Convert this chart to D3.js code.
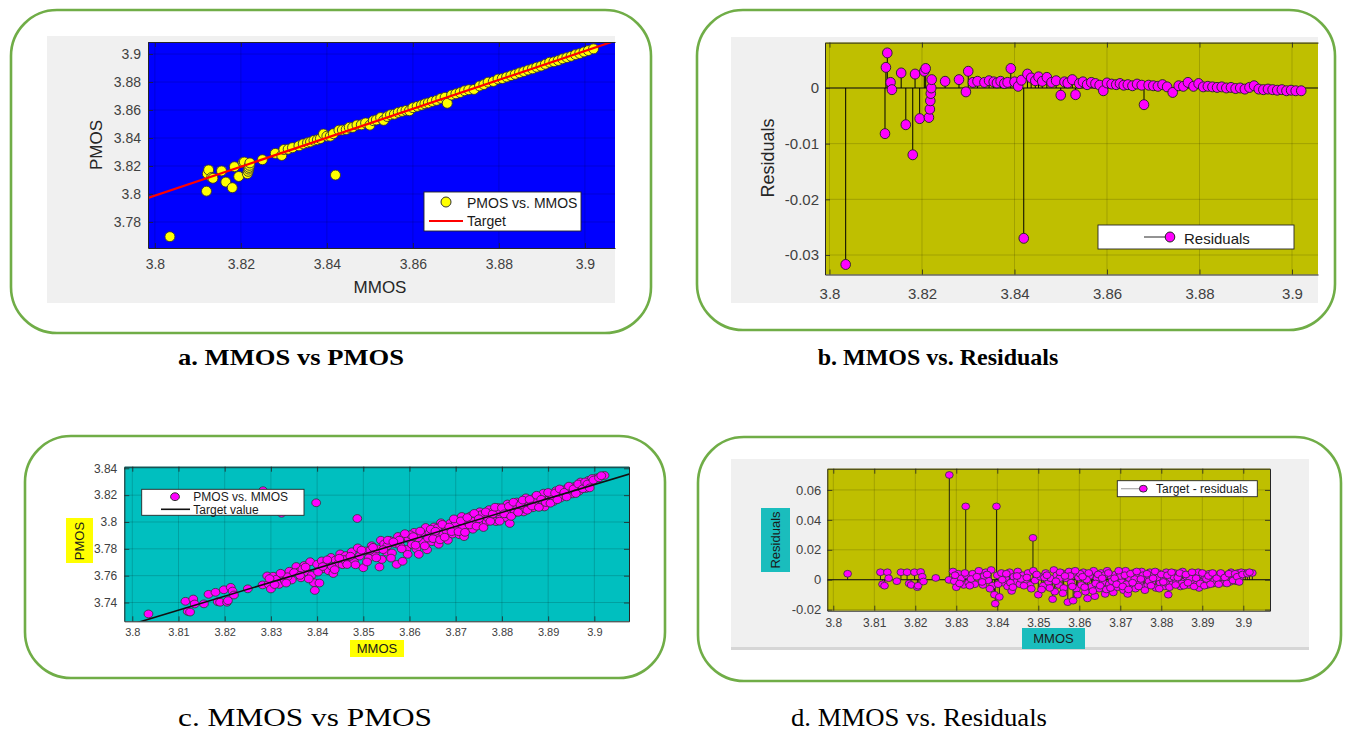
<!DOCTYPE html>
<html><head><meta charset="utf-8">
<script src="https://cdn.jsdelivr.net/npm/d3@7"></script>
<style>body{margin:0;background:#fff}svg{display:block}</style>
</head><body>
<script>
// ---------------- DATA ----------------
// Panels a & b : MMOS, PMOS and residuals
const mmosAB = [
 3.8035,3.8120,3.8122,3.8125,3.8132, 3.8135,3.8155,3.8165,3.8180,3.8185,
 3.8195,3.8205,3.8208,3.8215,3.8217, 3.8218,3.8219,3.8220,3.8221,3.8250,
 3.8280,3.8295,3.8300,3.8310,3.8420,
 3.8320,3.8335,3.8345,3.8355,3.8362, 3.8370,3.8378,3.8385,3.8392,3.8400,
 3.8408,3.8415,3.8428,3.8436,3.8445, 3.8452,3.8460,3.8470,3.8480,3.8490,
 3.8500,3.8508,3.8515,3.8525,3.8532, 3.8540,3.8548,3.8557,3.8566,3.8575,
 3.8584,3.8592,3.8600,3.8610,3.8620, 3.8628,3.8636,3.8645,3.8655,3.8665,
 3.8675,3.8680,3.8690,3.8700,3.8710, 3.8720,3.8730,3.8742,3.8755,3.8765,
 3.8775,3.8787,3.8798,3.8808,3.8818, 3.8828,3.8838,3.8848,3.8858,3.8868,
 3.8878,3.8888,3.8898,3.8908,3.8918, 3.8928,3.8938,3.8948,3.8958,3.8968,
 3.8978,3.8988,3.8998,3.9008,3.9020];
const pmosAB = [
 3.7695,3.8020,3.8145,3.8172,3.8118, 3.8112,3.8165,3.8085,3.8045,3.8195,
 3.8125,3.8225,3.8228,3.8145,3.8162, 3.8178,3.8190,3.8205,3.8222,3.8245,
 3.8290,3.8275,3.8318,3.8320,3.8135,
 3.8331,3.8344,3.8358,3.8366,3.8372, 3.8383,3.8387,3.8396,3.8429,3.8413,
 3.8413,3.8431,3.8456,3.8457,3.8461, 3.8476,3.8476,3.8493,3.8494,3.8508,
 3.8492,3.8524,3.8529,3.8546,3.8526, 3.8554,3.8566,3.8570,3.8583,3.8590,
 3.8597,3.8595,3.8617,3.8626,3.8635, 3.8645,3.8651,3.8661,3.8669,3.8683,
 3.8691,3.8648,3.8707,3.8716,3.8725, 3.8738,3.8745,3.8747,3.8772,3.8782,
 3.8799,3.8804,3.8821,3.8825,3.8836, 3.8846,3.8855,3.8866,3.8875,3.8886,
 3.8894,3.8906,3.8914,3.8927,3.8941, 3.8945,3.8954,3.8966,3.8975,3.8984,
 3.8996,3.9004,3.9015,3.9025,3.9037];
const residAB = [
 -0.0317,-0.0082,0.0037,0.0063,0.0010, -0.0003,0.0027,-0.0066,-0.0120,0.0025,
 -0.0055,0.0030,0.0035,-0.0053,-0.0038, -0.0023,-0.0010,0.0000,0.0015,0.0012,
 0.0015,-0.0007,0.0030,0.0010,-0.0270,
 0.0012,0.0010,0.0013,0.0011,0.0009, 0.0012,0.0008,0.0010,0.0035,0.0011,
 0.0003,0.0014,0.0025,0.0018,0.0013, 0.0020,0.0012,0.0019,0.0010,0.0013,
 -0.0013,0.0011,0.0009,0.0015,-0.0012, 0.0008,0.0011,0.0006,0.0010,0.0008,
 0.0005,-0.0005,0.0009,0.0007,0.0006, 0.0008,0.0005,0.0006,0.0004,0.0007,
 0.0005,-0.0030,0.0005,0.0004,0.0003, 0.0006,0.0002,-0.0008,0.0004,0.0003,
 0.0010,0.0003,0.0008,0.0002,0.0003, 0.0002,0.0001,0.0002,0.0000,0.0001,
 -0.0001,0.0000,-0.0002,0.0001,0.0004, -0.0002,-0.0003,-0.0002,-0.0003,-0.0004,
 -0.0003,-0.0005,-0.0004,-0.0005,-0.0005];
const targetAX = [3.7984, 3.907];
const targetAY = [3.7972, 3.9094];

// Panels c & d
const mmosCD = [
 3.8035,3.8115,3.8120,3.8125,3.8132,3.8135,3.8155,3.8165,3.8180,3.8185,
 3.8190,3.8198,3.8205,3.8207,3.8213,3.8217,3.8220,3.8250,3.8283,3.8282,
 3.8292,3.8295,3.8300,3.8305,3.8312,3.8318,3.8323,3.8325,3.8330,3.8340,
 3.8345,3.8355,3.8360,3.8365,3.8372,3.8378,3.8385,3.8388,3.8393,3.8395,
 3.8398,3.8400,3.8405,3.8410,3.8415,3.8420,3.8425,3.8430,3.8435,3.8440,
 3.8445,3.8450,3.8455,3.8462,3.8468,3.8475,3.8480,3.8487,3.8488,3.8492,
 3.8500,3.8505,3.8512,3.8518,3.8525,3.8530,3.8535,3.8538,3.8540,3.8545,
 3.8550,3.8557,3.8562,3.8568,3.8572,3.8575,3.8580,3.8585,3.8588,3.8593,
 3.8598,3.8605,3.8610,3.8615,3.8620,3.8625,3.8630,3.8635,3.8638,3.8643,
 3.8648,3.8653,3.8658,3.8663,3.8668,3.8673,3.8678,3.8683,3.8688,3.8693,
 3.8698,3.8703,3.8708,3.8713,3.8718,3.8722,3.8727,3.8732,3.8737,3.8742,
 3.8747,3.8752,3.8757,3.8762,3.8767,3.8772,3.8777,3.8782,3.8787,3.8792,
 3.8797,3.8802,3.8807,3.8812,3.8817,3.8822,3.8827,3.8832,3.8837,3.8842,
 3.8847,3.8852,3.8857,3.8862,3.8867,3.8872,3.8877,3.8882,3.8887,3.8892,
 3.8897,3.8902,3.8907,3.8912,3.8917,3.8922,3.8927,3.8932,3.8937,3.8942,
 3.8947,3.8952,3.8957,3.8962,3.8967,3.8972,3.8977,3.8982,3.8987,3.8992,
 3.9005,3.9022,3.8336,3.8368,3.8432,3.8458,3.8515,3.8552,3.8578,3.8602,
 3.8618,3.8640,3.8660,3.8680,3.8700,3.8715,3.8735,3.8755,3.8770,3.8790,
 3.8810,3.8830,3.8850,3.8870,3.8890,3.8910,3.8930,3.8950,3.8970,3.8995,
 3.8297,3.8308,3.8321,3.8333,3.8350,3.8363,3.8375,3.8382,3.8402,3.8412,
 3.8422,3.8438,3.8448,3.8465,3.8472,3.8483,3.8496,3.8508,3.8521,3.8528,
 3.8543,3.8553,3.8560,3.8565,3.8583,3.8590,3.8596,3.8608,3.8613,3.8623,
 3.8633,3.8646,3.8651,3.8656,3.8666,3.8671,3.8676,3.8686,3.8691,3.8696,
 3.8706,3.8711,3.8720,3.8725,3.8730,3.8740,3.8745,3.8750,3.8760,3.8765,
 3.8775,3.8780,3.8785,3.8795,3.8800,3.8805,3.8815,3.8820,3.8825,3.8835,
 3.8840,3.8845,3.8855,3.8860,3.8865,3.8875,3.8880,3.8885,3.8895,3.8900,
 3.8905,3.8915,3.8920,3.8925,3.8935,3.8940,3.8945,3.8955,3.8960,3.8965,
 3.8975,3.8980,3.8985,3.8990,3.8998,3.9010,3.9015];
const pmosC = [
 3.7315,3.7409,3.7334,3.7329,3.7426,3.7389,3.7390,3.7461,3.7476,3.7406,
 3.7402,3.7495,3.7402,3.7414,3.7513,3.7485,3.7456,3.7502,3.8233,3.7531,
 3.7598,3.7536,3.7501,3.7596,3.7574,3.7535,3.8065,3.7607,3.7562,3.7633,
 3.7568,3.7668,3.7628,3.7584,3.7676,3.7627,3.7704,3.7602,3.7548,3.7490,
 3.8143,3.7685,3.7545,3.7710,3.7651,3.7686,3.7636,3.7736,3.7616,3.7717,
 3.7687,3.7762,3.7682,3.7750,3.7716,3.7778,3.7703,3.8026,3.7807,3.7746,
 3.7659,3.7784,3.7732,3.7823,3.7770,3.7800,3.7665,3.7864,3.7721,3.7836,
 3.7776,3.7863,3.7769,3.7840,3.7684,3.7892,3.7822,3.7707,3.7891,3.7796,
 3.7876,3.7833,3.7923,3.7799,3.7759,3.7914,3.7849,3.7959,3.7793,3.7918,
 3.7853,3.7963,3.7903,3.7834,3.7994,3.7909,3.7964,3.7864,3.7990,3.7910,
 3.8015,3.7955,3.7905,3.8041,3.7891,3.8000,3.7955,3.8045,3.7946,3.8036,
 3.7991,3.8076,3.7976,3.8047,3.8002,3.8092,3.8032,3.8082,3.8003,3.8108,
 3.8048,3.8093,3.8033,3.8134,3.7989,3.8104,3.8069,3.8149,3.8095,3.8145,
 3.8075,3.8180,3.8120,3.8156,3.8106,3.8186,3.8136,3.8181,3.8132,3.8112,
 3.8207,3.8167,3.8197,3.8153,3.8233,3.8203,3.8178,3.8238,3.8204,3.8254,
 3.8224,3.8209,3.8264,3.8245,3.8230,3.8285,3.8270,3.8250,3.8310,3.8291,
 3.8329,3.8347,3.7592,3.7648,3.7668,3.7720,3.7790,3.7823,3.7865,3.7905,
 3.7882,3.7880,3.7955,3.7936,3.7992,3.7953,3.8008,3.8054,3.8030,3.8076,
 3.8061,3.8122,3.8098,3.8154,3.8215,3.8190,3.8201,3.8242,3.8298,3.8324,
 3.7578,3.7534,3.7618,3.7545,3.7623,3.7602,3.7664,3.7576,3.7627,3.7668,
 3.7718,3.7645,3.7730,3.7683,3.7745,3.7681,3.7790,3.7702,3.7811,3.7733,
 3.7794,3.7864,3.7731,3.7852,3.7800,3.7913,3.7759,3.7891,3.7827,3.7932,
 3.7822,3.7946,3.7876,3.7931,3.7867,3.7982,3.7887,3.7962,3.7928,3.8023,
 3.7928,3.8008,3.7923,3.8033,3.7978,3.8064,3.7969,3.8024,3.7959,3.8075,
 3.8005,3.8060,3.8110,3.8006,3.8106,3.8061,3.8117,3.8042,3.8147,3.8072,
 3.8128,3.8163,3.8088,3.8168,3.8119,3.8199,3.8109,3.8169,3.8145,3.8220,
 3.8140,3.8216,3.8166,3.8246,3.8221,3.8187,3.8267,3.8247,3.8212,3.8283,
 3.8248,3.8298,3.8283,3.8254,3.8312,3.8329,3.8345];
const residD = [
 0.0040,0.0050,-0.0030,-0.0040,0.0050,0.0010,-0.0010,0.0050,0.0050,-0.0025,
 -0.0035,0.0050,-0.0050,-0.0040,0.0052,0.0020,-0.0012,0.0012,0.0700,-0.0001,
 0.0055,-0.0010,-0.0050,0.0040,0.0010,-0.0035,0.0490,0.0030,-0.0020,0.0040,
 -0.0030,0.0060,0.0015,-0.0035,0.0050,-0.0005,0.0065,-0.0040,-0.0100,-0.0160,
 0.0490,0.0030,-0.0115,0.0045,-0.0020,0.0010,-0.0045,0.0050,-0.0075,0.0020,
 -0.0015,0.0055,-0.0030,0.0030,-0.0010,0.0045,-0.0035,0.0280,0.0060,-0.0005,
 -0.0100,0.0020,-0.0040,0.0045,-0.0015,0.0010,-0.0130,0.0065,-0.0080,0.0030,
 -0.0035,0.0045,-0.0055,0.0010,-0.0150,0.0055,-0.0020,-0.0140,0.0040,-0.0060,
 0.0015,-0.0035,0.0050,-0.0080,-0.0125,0.0025,-0.0045,0.0060,-0.0110,0.0010,
 -0.0060,0.0045,-0.0020,-0.0095,0.0060,-0.0030,0.0020,-0.0085,0.0035,-0.0050,
 0.0050,-0.0015,-0.0070,0.0060,-0.0095,0.0010,-0.0040,0.0045,-0.0060,0.0025,
 -0.0025,0.0055,-0.0050,0.0015,-0.0035,0.0050,-0.0015,0.0030,-0.0055,0.0045,
 -0.0020,0.0020,-0.0045,0.0050,-0.0100,0.0010,-0.0030,0.0045,-0.0015,0.0030,
 -0.0045,0.0055,-0.0010,0.0020,-0.0035,0.0040,-0.0015,0.0025,-0.0030,-0.0055,
 0.0035,-0.0010,0.0015,-0.0035,0.0040,0.0005,-0.0025,0.0030,-0.0010,0.0035,
 0.0000,-0.0020,0.0030,0.0005,-0.0015,0.0035,0.0015,-0.0010,0.0045,0.0020,
 0.0045,0.0045,0.0005,0.0025,-0.0020,0.0005,0.0015,0.0010,0.0025,0.0040,
 0.0000,-0.0025,0.0030,-0.0010,0.0025,-0.0030,0.0005,0.0030,-0.0010,0.0015,
 -0.0020,0.0020,-0.0025,0.0010,0.0050,0.0005,-0.0005,0.0015,0.0050,0.0050,
 0.0030,-0.0025,0.0045,-0.0040,0.0020,-0.0015,0.0035,-0.0060,-0.0030,0.0000,
 0.0040,-0.0050,0.0025,-0.0040,0.0015,-0.0060,0.0035,-0.0065,0.0030,-0.0055,
 -0.0010,0.0050,-0.0090,0.0025,-0.0045,0.0060,-0.0100,0.0020,-0.0050,0.0045,
 -0.0075,0.0035,-0.0040,0.0010,-0.0065,0.0045,-0.0055,0.0010,-0.0030,0.0060,
 -0.0045,0.0030,-0.0065,0.0040,-0.0020,0.0055,-0.0045,0.0005,-0.0070,0.0040,
 -0.0040,0.0010,0.0055,-0.0060,0.0035,-0.0015,0.0030,-0.0050,0.0050,-0.0035,
 0.0015,0.0045,-0.0040,0.0035,-0.0020,0.0050,-0.0045,0.0010,-0.0025,0.0045,
 -0.0040,0.0025,-0.0030,0.0045,0.0010,-0.0030,0.0045,0.0015,-0.0025,0.0040,
 -0.0005,0.0040,0.0020,-0.0015,0.0035,0.0040,0.0050];
const targetCX = [3.80, 3.91];
const targetCY = [3.7239, 3.8383];

// Tick values
const ticksAX = [3.8, 3.82, 3.84, 3.86, 3.88, 3.9];
const ticksAY = [3.78, 3.8, 3.82, 3.84, 3.86, 3.88, 3.9];
const ticksBX = [3.8, 3.82, 3.84, 3.86, 3.88, 3.9];
const ticksBY = [-0.03, -0.02, -0.01, 0];
const ticksCX = [3.8, 3.81, 3.82, 3.83, 3.84, 3.85, 3.86, 3.87, 3.88, 3.89, 3.9];
const ticksCY = [3.74, 3.76, 3.78, 3.8, 3.82, 3.84];
const ticksDX = [3.8, 3.81, 3.82, 3.83, 3.84, 3.85, 3.86, 3.87, 3.88, 3.89, 3.9];
const ticksDY = [-0.02, 0, 0.02, 0.04, 0.06];

const captions = ["a. MMOS vs PMOS", "b. MMOS vs. Residuals", "c. MMOS vs PMOS", "d. MMOS vs. Residuals"];

// ---------------- DRAWING ----------------
const FONT = "'Liberation Sans', Arial, Helvetica, sans-serif";
const SERIF = "'Liberation Serif', 'Times New Roman', serif";
const W = 1348, H = 732;
const svg = d3.select('body').append('svg').attr('width', W).attr('height', H);
svg.append('rect').attr('width', W).attr('height', H).attr('fill', '#fff');
const defs = svg.append('defs');
const fmt = d => String(+d.toFixed(3));

// Green rounded frames
[[11,10,640,323],[697,10,638,320],[25,436,640,242],[698,437,643,244]].forEach(f => {
  svg.append('rect').attr('x', f[0]).attr('y', f[1]).attr('width', f[2]).attr('height', f[3])
    .attr('rx', 46).attr('ry', 46).attr('fill', 'none').attr('stroke', '#70AD47').attr('stroke-width', 2.6);
});

function plotBg(x, y, fill, xT, yT) {
  const [xl, xr] = x.range(), [yb, yt] = y.range();
  svg.append('rect').attr('x', xl).attr('y', yt).attr('width', xr - xl).attr('height', yb - yt).attr('fill', fill);
  const g = svg.append('g');
  g.selectAll('line.gx').data(xT).join('line').attr('class', 'gx')
    .attr('x1', d => x(d)).attr('x2', d => x(d)).attr('y1', yt).attr('y2', yb)
    .attr('stroke', 'rgba(0,0,0,0.16)').attr('stroke-width', 1);
  g.selectAll('line.gy').data(yT).join('line').attr('class', 'gy')
    .attr('y1', d => y(d)).attr('y2', d => y(d)).attr('x1', xl).attr('x2', xr)
    .attr('stroke', 'rgba(0,0,0,0.16)').attr('stroke-width', 1);
}
function clip(id, x, y) {
  const [xl, xr] = x.range(), [yb, yt] = y.range();
  defs.append('clipPath').attr('id', id).append('rect').attr('x', xl).attr('y', yt).attr('width', xr - xl).attr('height', yb - yt);
  return svg.append('g').attr('clip-path', `url(#${id})`);
}
function axes(x, y, o) {
  const [xl, xr] = x.range(), [yb, yt] = y.range();
  const col = '#262626';
  const style = (sel, fs) => {
    sel.attr('font-family', FONT).attr('font-size', fs);
    sel.select('.domain').attr('stroke', col).attr('stroke-width', 1);
    sel.selectAll('.tick line').attr('stroke', col).attr('stroke-width', 0.8);
    sel.selectAll('.tick text').attr('fill', '#404040');
  };
  style(svg.append('g').attr('transform', `translate(0,${yb})`)
    .call(d3.axisBottom(x).tickValues(o.xT).tickFormat(fmt).tickSizeInner(-5).tickSizeOuter(0).tickPadding(o.padX)), o.fsX);
  style(svg.append('g').attr('transform', `translate(0,${yt})`)
    .call(d3.axisTop(x).tickValues(o.xT).tickFormat(() => '').tickSizeInner(-5).tickSizeOuter(0)), o.fsX);
  style(svg.append('g').attr('transform', `translate(${xl},0)`)
    .call(d3.axisLeft(y).tickValues(o.yT).tickFormat(fmt).tickSizeInner(-5).tickSizeOuter(0).tickPadding(o.padY)), o.fsY);
  if (o.right) style(svg.append('g').attr('transform', `translate(${xr},0)`)
    .call(d3.axisRight(y).tickValues(o.yT).tickFormat(() => '').tickSizeInner(-5).tickSizeOuter(0)), o.fsY);
}
function label(txt, cx, cy, fs, rot, box) {
  if (box) svg.append('rect').attr('x', box[0]).attr('y', box[1]).attr('width', box[2]).attr('height', box[3]).attr('fill', box[4]);
  svg.append('text').attr('transform', `translate(${cx},${cy}) rotate(${rot})`)
    .attr('text-anchor', 'middle').attr('dominant-baseline', 'central')
    .attr('font-family', FONT).attr('font-size', fs).attr('fill', box ? '#1a1a1a' : '#262626').text(txt);
}
function legendBox(x, y, w, h) {
  svg.append('rect').attr('x', x).attr('y', y).attr('width', w).attr('height', h)
    .attr('fill', '#fff').attr('stroke', '#262626').attr('stroke-width', 0.9);
}
function ltext(txt, x, y, fs) {
  svg.append('text').attr('x', x).attr('y', y).attr('dominant-baseline', 'central')
    .attr('font-family', FONT).attr('font-size', fs).attr('fill', '#1a1a1a').text(txt);
}
const idxAB = d3.range(mmosAB.length), idxCD = d3.range(mmosCD.length);

// ===== Panel a =====
svg.append('rect').attr('x', 47).attr('y', 36).attr('width', 568).attr('height', 267).attr('fill', '#F0F0F0');
const xA = d3.scaleLinear().domain([3.7984, 3.907]).range([148, 615]);
const yA = d3.scaleLinear().domain([3.7614, 3.9086]).range([248, 42]);
plotBg(xA, yA, '#0000FF', ticksAX, ticksAY);
const gA = clip('clipA', xA, yA);
gA.selectAll('circle').data(idxAB).join('circle')
  .attr('cx', i => xA(mmosAB[i])).attr('cy', i => yA(pmosAB[i])).attr('r', 5)
  .attr('fill', '#FFFF00').attr('stroke', '#333').attr('stroke-width', 0.9);
gA.append('path').datum(d3.zip(targetAX, targetAY))
  .attr('d', d3.line().x(d => xA(d[0])).y(d => yA(d[1])))
  .attr('stroke', '#FF0000').attr('stroke-width', 2.2).attr('fill', 'none');
axes(xA, yA, {xT: ticksAX, yT: ticksAY, fsX: 14, fsY: 14, padX: 11, padY: 7, right: false});
label('PMOS', 96, 145, 17, -90);
label('MMOS', 380, 287, 17, 0);
legendBox(424, 192, 157, 39);
svg.append('circle').attr('cx', 446).attr('cy', 202).attr('r', 5).attr('fill', '#FFFF00').attr('stroke', '#333');
svg.append('line').attr('x1', 429).attr('x2', 463).attr('y1', 221).attr('y2', 221).attr('stroke', '#FF0000').attr('stroke-width', 2.2);
ltext('PMOS vs. MMOS', 467, 203, 14);
ltext('Target', 467, 221, 14);

// ===== Panel b =====
svg.append('rect').attr('x', 731).attr('y', 37).attr('width', 587).attr('height', 266).attr('fill', '#F0F0F0');
const xB = d3.scaleLinear().domain([3.79903, 3.90562]).range([825, 1318]);
const yB = d3.scaleLinear().domain([-0.0335, 0.00815]).range([274.5, 42.6]);
plotBg(xB, yB, '#BFBF00', ticksBX, ticksBY);
const gB = clip('clipB', xB, yB);
gB.append('line').attr('x1', 825).attr('x2', 1318).attr('y1', yB(0)).attr('y2', yB(0)).attr('stroke', '#111').attr('stroke-width', 1.2);
gB.selectAll('line.stem').data(idxAB).join('line').attr('class', 'stem')
  .attr('x1', i => xB(mmosAB[i])).attr('x2', i => xB(mmosAB[i]))
  .attr('y1', yB(0)).attr('y2', i => yB(residAB[i])).attr('stroke', '#000').attr('stroke-width', 1);
gB.selectAll('ellipse').data(idxAB).join('ellipse')
  .attr('cx', i => xB(mmosAB[i])).attr('cy', i => yB(residAB[i])).attr('rx', 4.8).attr('ry', 5)
  .attr('fill', '#FF00FF').attr('stroke', '#222').attr('stroke-width', 0.9);
axes(xB, yB, {xT: ticksBX, yT: ticksBY, fsX: 15, fsY: 15, padX: 14, padY: 6, right: false});
label('Residuals', 768, 158, 18, -90);
legendBox(1098, 225, 196, 24);
svg.append('line').attr('x1', 1144).attr('x2', 1170).attr('y1', 237).attr('y2', 237).attr('stroke', '#262626').attr('stroke-width', 1);
svg.append('ellipse').attr('cx', 1170).attr('cy', 237).attr('rx', 4.8).attr('ry', 5).attr('fill', '#FF00FF').attr('stroke', '#222');
ltext('Residuals', 1184, 238, 15);

// ===== Panel c =====
const xC = d3.scaleLinear().domain([3.79827, 3.9075]).range([124.3, 629]);
const yC = d3.scaleLinear().domain([3.726, 3.8412]).range([621.3, 466.7]);
plotBg(xC, yC, '#00BFBF', ticksCX, ticksCY);
const gC = clip('clipC', xC, yC);
gC.selectAll('ellipse').data(idxCD).join('ellipse')
  .attr('cx', i => xC(mmosCD[i])).attr('cy', i => yC(pmosC[i])).attr('rx', 4.4).attr('ry', 3.9)
  .attr('fill', '#FF00FF').attr('stroke', '#333').attr('stroke-width', 0.8);
gC.append('path').datum(d3.zip(targetCX, targetCY))
  .attr('d', d3.line().x(d => xC(d[0])).y(d => yC(d[1])))
  .attr('stroke', '#111').attr('stroke-width', 1.6).attr('fill', 'none');
axes(xC, yC, {xT: ticksCX, yT: ticksCY, fsX: 11, fsY: 12, padX: 7, padY: 7, right: true});
label('PMOS', 79.5, 541, 13, -90, [66, 518, 27, 45, '#FFFF00']);
label('MMOS', 377, 648, 13, 0, [350, 640, 54, 17, '#FFFF00']);
legendBox(141.7, 489.3, 162.3, 26);
svg.append('ellipse').attr('cx', 175).attr('cy', 496.7).attr('rx', 4.4).attr('ry', 3.9).attr('fill', '#FF00FF').attr('stroke', '#333');
svg.append('line').attr('x1', 161).attr('x2', 190).attr('y1', 509.3).attr('y2', 509.3).attr('stroke', '#111').attr('stroke-width', 1.6);
ltext('PMOS vs. MMOS', 193.3, 497, 12);
ltext('Target value', 193.3, 509.5, 12);

// ===== Panel d =====
svg.append('rect').attr('x', 731).attr('y', 459).attr('width', 578).attr('height', 189).attr('fill', '#F0F0F0');
svg.append('rect').attr('x', 731).attr('y', 647).attr('width', 578).attr('height', 3).attr('fill', '#D6D6D6');
const xD = d3.scaleLinear().domain([3.79854, 3.90651]).range([827.3, 1270]);
const yD = d3.scaleLinear().domain([-0.0207, 0.0742]).range([610.7, 468.7]);
plotBg(xD, yD, '#BFBF00', ticksDX, ticksDY);
const gD = clip('clipD', xD, yD);
gD.append('line').attr('x1', 827.3).attr('x2', 1270).attr('y1', yD(0)).attr('y2', yD(0)).attr('stroke', '#111').attr('stroke-width', 1);
gD.selectAll('line.stem').data(idxCD).join('line').attr('class', 'stem')
  .attr('x1', i => xD(mmosCD[i])).attr('x2', i => xD(mmosCD[i]))
  .attr('y1', yD(0)).attr('y2', i => yD(residD[i])).attr('stroke', '#111').attr('stroke-width', 0.9);
gD.selectAll('ellipse').data(idxCD).join('ellipse')
  .attr('cx', i => xD(mmosCD[i])).attr('cy', i => yD(residD[i])).attr('rx', 3.9).attr('ry', 3.4)
  .attr('fill', '#FF00FF').attr('stroke', '#333').attr('stroke-width', 0.8);
axes(xD, yD, {xT: ticksDX, yT: ticksDY, fsX: 12, fsY: 13, padX: 8, padY: 6, right: true});
label('Residuals', 775.5, 540, 13, -90, [761, 508, 29, 64, '#1ABDBD']);
label('MMOS', 1053.5, 638.5, 13, 0, [1022, 628, 63, 21, '#1ABDBD']);
legendBox(1117.3, 480.7, 140, 16);
svg.append('line').attr('x1', 1121).attr('x2', 1143).attr('y1', 488.7).attr('y2', 488.7).attr('stroke', '#aaa').attr('stroke-width', 1.2);
svg.append('ellipse').attr('cx', 1143.3).attr('cy', 488.7).attr('rx', 3.9).attr('ry', 3.4).attr('fill', '#FF00FF').attr('stroke', '#333');
ltext('Target - residuals', 1156, 489, 12);

// ===== Captions =====
const capPos = [[291, 365, 'bold', 24, 226], [938, 365, 'bold', 24, 0], [305, 726, 'normal', 26, 254], [919, 726, 'normal', 26, 256]];
captions.forEach((c, i) => {
  const t = svg.append('text').attr('x', capPos[i][0]).attr('y', capPos[i][1]).attr('text-anchor', 'middle')
    .attr('font-family', SERIF).attr('font-weight', capPos[i][2]).attr('font-size', capPos[i][3])
    .attr('fill', '#000').text(c);
  if (capPos[i][4]) t.attr('textLength', capPos[i][4]).attr('lengthAdjust', 'spacingAndGlyphs');
});
</script>
</body></html>
